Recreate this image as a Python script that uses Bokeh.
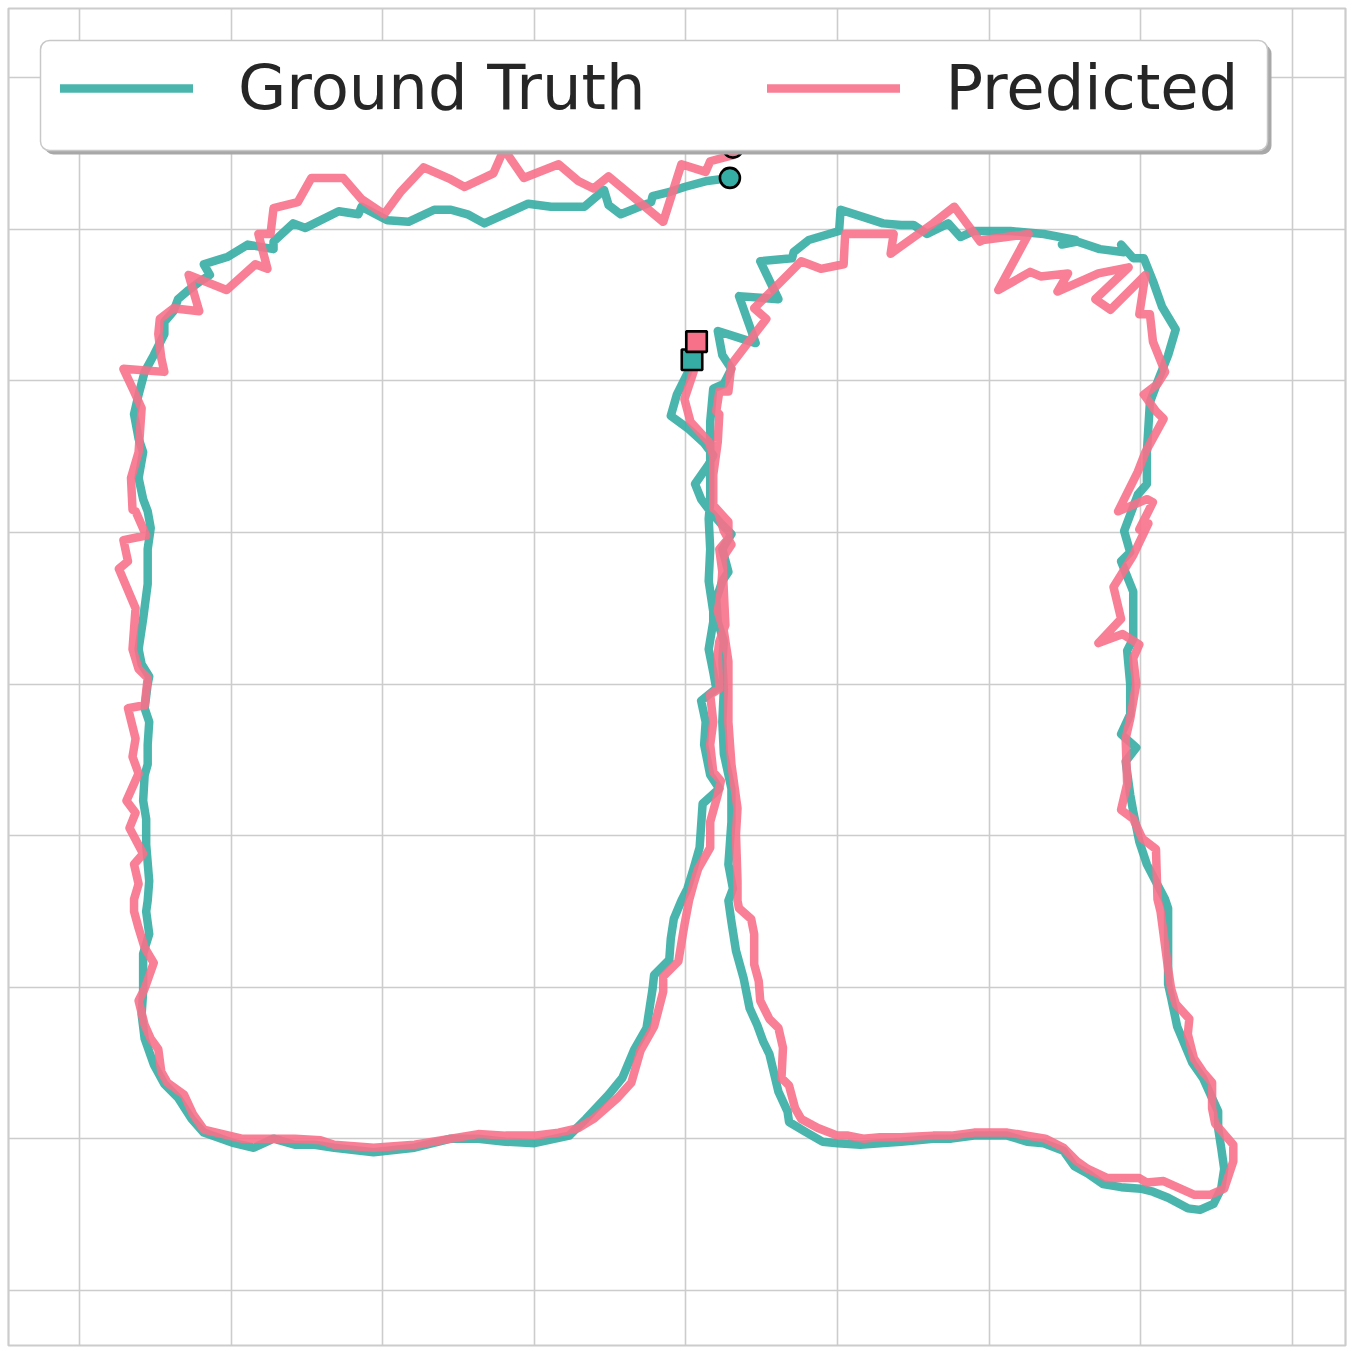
from bokeh.plotting import figure
from bokeh.models import Range1d, Grid, FixedTicker, Legend, LegendItem, BoxAnnotation
from bokeh.embed import file_html
from bokeh.resources import INLINE

# ---------------- data (grid units) ----------------
gt_x = [4.04, 4.01, 3.94, 3.90, 4.01, 4.12, 4.18, 4.15, 4.06, 4.10,
        4.16, 4.23, 4.30, 4.24, 4.28, 4.24, 4.20, 4.21, 4.25, 4.24,
        4.25, 4.24, 4.25, 4.30, 4.30, 4.28, 4.31, 4.28, 4.30, 4.33,
        4.38, 4.42, 4.47, 4.51, 4.55, 4.61, 4.67, 4.68, 4.78, 4.90,
        5.00, 5.15, 5.28, 5.42, 5.63, 5.75, 5.90, 6.12, 6.25, 6.36,
        6.49, 6.56, 6.65, 6.75, 6.87, 7.00, 7.08, 7.18, 7.31, 7.39,
        7.48, 7.53, 7.55, 7.53, 7.51, 7.51, 7.41, 7.34, 7.24, 7.20,
        7.18, 7.18, 7.18, 7.16, 7.04, 6.99, 6.95, 6.93, 6.90, 6.97,
        6.87, 6.93, 6.93, 6.91, 6.95, 6.95, 6.93, 6.87, 6.93, 6.89,
        6.98, 7.04, 7.04, 7.06, 7.12, 7.18, 7.23, 7.14, 7.08, 7.02,
        6.95, 6.87, 6.89, 6.73, 6.58, 6.48, 6.57, 6.36, 6.14, 5.90,
        5.81, 5.73, 5.59, 5.50, 5.42, 5.30, 5.02, 5.01, 4.81, 4.71,
        4.70, 4.49, 4.61, 4.35, 4.46, 4.21, 4.24, 4.30, 4.25, 4.18,
        4.16, 4.16, 4.16, 4.15, 4.16, 4.15, 4.18, 4.18, 4.15, 4.18,
        4.20, 4.10, 4.13, 4.12, 4.16, 4.22, 4.11, 4.09, 4.05, 4.01,
        3.97, 3.92, 3.90, 3.89, 3.79, 3.78, 3.74, 3.66, 3.58, 3.49,
        3.34, 3.23, 3.00, 2.81, 2.63, 2.45, 2.21, 1.94, 1.68, 1.55,
        1.42, 1.28, 1.15, 1.02, 0.82, 0.74, 0.65, 0.56, 0.49, 0.43,
        0.41, 0.42, 0.42, 0.46, 0.44, 0.45, 0.46, 0.44, 0.44, 0.42,
        0.43, 0.45, 0.45, 0.46, 0.43, 0.45, 0.46, 0.41, 0.39, 0.42,
        0.45, 0.45, 0.47, 0.45, 0.42, 0.39, 0.42, 0.39, 0.36, 0.39,
        0.43, 0.49, 0.56, 0.56, 0.62, 0.65, 0.72, 0.80, 0.86, 0.82,
        0.98, 1.11, 1.28, 1.28, 1.41, 1.49, 1.71, 1.84, 1.86, 2.03,
        2.17, 2.34, 2.45, 2.56, 2.67, 2.96, 3.11, 3.33, 3.46, 3.49,
        3.57, 3.77, 3.78, 3.90, 3.99, 4.14, 4.29]

gt_y = [6.14, 6.05, 5.91, 5.77, 5.69, 5.59, 5.51, 5.45, 5.32, 5.22,
        5.14, 5.06, 4.99, 4.89, 4.74, 4.68, 4.56, 4.41, 4.28, 4.15,
        3.97, 3.75, 3.54, 3.31, 3.09, 2.81, 2.65, 2.57, 2.43, 2.24,
        2.06, 1.86, 1.75, 1.64, 1.56, 1.31, 1.18, 1.11, 1.05, 0.98,
        0.97, 0.96, 0.97, 0.98, 1.00, 1.00, 1.02, 1.02, 0.98, 0.97,
        0.92, 0.82, 0.77, 0.70, 0.68, 0.67, 0.65, 0.61, 0.54, 0.53,
        0.57, 0.67, 0.80, 0.94, 1.07, 1.18, 1.40, 1.50, 1.74, 1.93,
        2.02, 2.35, 2.52, 2.58, 2.81, 2.96, 3.16, 3.27, 3.49, 3.58,
        3.67, 3.80, 4.00, 4.22, 4.30, 4.61, 4.66, 4.81, 4.87, 5.01,
        5.25, 5.32, 5.53, 5.86, 6.02, 6.17, 6.34, 6.49, 6.66, 6.81,
        6.81, 6.90, 6.85, 6.87, 6.92, 6.90, 6.93, 6.97, 6.99, 6.99,
        6.95, 7.04, 6.97, 7.03, 7.03, 7.04, 7.13, 6.99, 6.93, 6.85,
        6.81, 6.79, 6.54, 6.56, 6.25, 6.33, 6.17, 6.08, 5.98, 5.95,
        5.73, 5.47, 5.20, 5.09, 4.89, 4.68, 4.48, 4.41, 4.23, 4.08,
        3.97, 3.89, 3.75, 3.60, 3.40, 3.31, 3.21, 2.92, 2.78, 2.65,
        2.57, 2.45, 2.32, 2.18, 2.08, 1.99, 1.73, 1.59, 1.40, 1.29,
        1.13, 1.02, 0.97, 0.98, 1.00, 1.00, 0.94, 0.91, 0.94, 0.96,
        0.96, 1.00, 0.94, 0.97, 1.04, 1.13, 1.27, 1.36, 1.49, 1.66,
        1.82, 1.97, 2.22, 2.35, 2.50, 2.57, 2.70, 2.94, 3.11, 3.23,
        3.40, 3.47, 3.60, 3.75, 3.84, 4.00, 4.05, 4.13, 4.23, 4.43,
        4.66, 4.89, 5.03, 5.14, 5.22, 5.36, 5.53, 5.62, 5.78, 5.91,
        6.06, 6.17, 6.31, 6.39, 6.46, 6.54, 6.60, 6.66, 6.70, 6.77,
        6.82, 6.90, 6.87, 6.92, 7.04, 7.01, 7.12, 7.10, 7.15, 7.06,
        7.05, 7.13, 7.13, 7.10, 7.04, 7.17, 7.15, 7.15, 7.26, 7.16,
        7.10, 7.18, 7.22, 7.25, 7.28, 7.32, 7.34]

pred_x = [4.07, 4.05, 3.99, 4.03, 4.15, 4.18, 4.18, 4.18, 4.28, 4.28,
          4.22, 4.24, 4.23, 4.21, 4.25, 4.28, 4.28, 4.28, 4.30, 4.34,
          4.33, 4.34, 4.34, 4.35, 4.43, 4.45, 4.45, 4.48, 4.49, 4.55,
          4.61, 4.64, 4.63, 4.68, 4.72, 4.76, 4.87, 5.00, 5.07, 5.17,
          5.28, 5.42, 5.63, 5.75, 5.90, 6.01, 6.12, 6.25, 6.37, 6.49,
          6.58, 6.65, 6.78, 6.99, 7.04, 7.15, 7.35, 7.46, 7.55, 7.61,
          7.61, 7.49, 7.47, 7.47, 7.41, 7.35, 7.31, 7.32, 7.23, 7.20,
          7.18, 7.15, 7.13, 7.11, 7.10, 7.01, 6.95, 6.87, 6.91, 6.90,
          6.93, 6.97, 6.95, 6.99, 6.88, 6.72, 6.87, 6.82, 6.95, 7.05,
          6.99, 7.08, 7.04, 6.85, 6.98, 7.03, 7.15, 7.10, 7.02, 7.11,
          7.16, 7.08, 7.06, 6.99, 7.03, 6.80, 6.70, 6.92, 6.72, 6.45,
          6.52, 6.34, 6.27, 6.06, 6.26, 5.96, 5.94, 5.77, 5.63, 5.42,
          5.35, 5.37, 5.05, 5.04, 4.89, 4.76, 4.67, 4.45, 4.53, 4.30,
          4.28, 4.22, 4.20, 4.22, 4.21, 4.18, 4.18, 4.21, 4.25, 4.30,
          4.24, 4.25, 4.26, 4.22, 4.21, 4.22, 4.16, 4.18, 4.16, 4.18,
          4.23, 4.21, 4.16, 4.16, 4.08, 4.05, 4.02, 3.99, 3.95, 3.85,
          3.85, 3.79, 3.70, 3.64, 3.55, 3.39, 3.29, 3.16, 3.00, 2.81,
          2.63, 2.45, 2.21, 1.94, 1.68, 1.59, 1.42, 1.28, 1.07, 0.82,
          0.75, 0.69, 0.58, 0.54, 0.52, 0.47, 0.43, 0.39, 0.43, 0.49,
          0.43, 0.39, 0.36, 0.36, 0.39, 0.36, 0.42, 0.33, 0.37, 0.31,
          0.39, 0.35, 0.37, 0.32, 0.43, 0.45, 0.39, 0.35, 0.37, 0.26,
          0.32, 0.29, 0.44, 0.37, 0.35, 0.34, 0.39, 0.41, 0.36, 0.29,
          0.56, 0.54, 0.52, 0.53, 0.62, 0.79, 0.72, 0.97, 1.16, 1.24,
          1.18, 1.26, 1.28, 1.44, 1.53, 1.74, 1.86, 2.01, 2.12, 2.27,
          2.45, 2.54, 2.73, 2.80, 2.93, 3.16, 3.29, 3.39, 3.49, 3.85,
          3.97, 4.13, 4.16, 4.31, 4.31]

pred_y = [6.26, 6.06, 5.88, 5.73, 5.60, 5.51, 5.36, 5.18, 5.07, 4.96,
          4.89, 4.74, 4.61, 4.48, 4.35, 4.15, 3.97, 3.75, 3.47, 3.18,
          3.01, 2.70, 2.57, 2.52, 2.45, 2.35, 2.15, 2.04, 1.91, 1.79,
          1.73, 1.60, 1.40, 1.35, 1.20, 1.13, 1.07, 1.02, 1.02, 1.00,
          1.01, 1.01, 1.02, 1.02, 1.04, 1.04, 1.04, 1.02, 1.00, 0.94,
          0.85, 0.80, 0.74, 0.74, 0.71, 0.72, 0.63, 0.63, 0.67, 0.85,
          0.96, 1.10, 1.20, 1.37, 1.44, 1.53, 1.69, 1.79, 1.89, 1.99,
          2.12, 2.35, 2.50, 2.58, 2.91, 2.98, 3.11, 3.17, 3.34, 3.64,
          3.77, 4.00, 4.17, 4.26, 4.33, 4.27, 4.43, 4.64, 4.85, 5.06,
          5.02, 5.20, 5.22, 5.14, 5.40, 5.53, 5.75, 5.80, 5.91, 5.98,
          6.06, 6.26, 6.44, 6.44, 6.70, 6.47, 6.54, 6.75, 6.71, 6.59,
          6.71, 6.69, 6.72, 6.60, 6.97, 6.93, 6.92, 7.15, 7.04, 6.89,
          6.84, 6.97, 6.97, 6.77, 6.74, 6.79, 6.70, 6.48, 6.41, 6.11,
          5.93, 5.93, 5.80, 5.78, 5.60, 5.38, 5.16, 5.14, 5.01, 4.92,
          4.83, 4.61, 4.39, 4.28, 4.20, 3.97, 3.93, 3.75, 3.60, 3.42,
          3.36, 3.27, 3.09, 2.92, 2.78, 2.68, 2.57, 2.41, 2.17, 2.07,
          1.97, 1.74, 1.58, 1.37, 1.27, 1.13, 1.07, 1.04, 1.02, 1.02,
          1.03, 1.00, 0.96, 0.94, 0.96, 0.99, 1.00, 1.00, 1.00, 1.06,
          1.16, 1.29, 1.37, 1.44, 1.59, 1.66, 1.75, 1.91, 1.99, 2.16,
          2.26, 2.39, 2.50, 2.58, 2.68, 2.81, 2.88, 3.05, 3.15, 3.23,
          3.41, 3.52, 3.64, 3.84, 3.86, 4.04, 4.10, 4.23, 4.50, 4.76,
          4.81, 4.95, 4.98, 5.14, 5.15, 5.36, 5.53, 5.82, 5.93, 6.08,
          6.06, 6.15, 6.31, 6.41, 6.48, 6.46, 6.70, 6.60, 6.77, 6.74,
          6.97, 6.97, 7.14, 7.18, 7.34, 7.34, 7.20, 7.10, 7.25, 7.41,
          7.33, 7.28, 7.37, 7.53, 7.34, 7.43, 7.32, 7.27, 7.35, 7.05,
          7.43, 7.38, 7.45, 7.49, 7.54]

grid_ticks = [0, 1, 2, 3, 4, 5, 6, 7, 8]
series_labels = ["Ground Truth", "Predicted"]

# ---------------- styles ----------------
GT_COLOR = "#36ada4"
PR_COLOR = "#f77189"
GRID_COLOR = "#cccccc"
TEXT_COLOR = "#262626"
FONT = "DejaVu Sans"

p = figure(width=1353, height=1353,
           x_range=Range1d(-0.468, 8.35), y_range=Range1d(-0.365, 8.458),
           x_axis_type=None, y_axis_type=None,
           toolbar_location=None, output_backend="svg",
           min_border_left=8, min_border_right=8, min_border_top=8, min_border_bottom=8)
p.background_fill_color = "white"
p.border_fill_color = "white"
p.outline_line_color = GRID_COLOR
p.outline_line_width = 2.2

p.add_layout(Grid(dimension=0, ticker=FixedTicker(ticks=grid_ticks),
                  grid_line_color=GRID_COLOR, grid_line_width=1.6))
p.add_layout(Grid(dimension=1, ticker=FixedTicker(ticks=grid_ticks),
                  grid_line_color=GRID_COLOR, grid_line_width=1.6))

gt_line = p.line(gt_x, gt_y, line_color=GT_COLOR, line_width=8.5, line_alpha=0.9,
                 line_join="round", line_cap="round")
pr_line = p.line(pred_x, pred_y, line_color=PR_COLOR, line_width=8.5, line_alpha=0.9,
                 line_join="round", line_cap="round")

# start (square) and end (circle) markers
p.scatter([gt_x[0]], [gt_y[0]], marker="square", size=20.5, fill_color=GT_COLOR,
          line_color="black", line_width=2.6)
p.scatter([pred_x[0]], [pred_y[0]], marker="square", size=20.5, fill_color=PR_COLOR,
          line_color="black", line_width=2.6)
p.scatter([gt_x[-1]], [gt_y[-1]], marker="circle", size=20, fill_color=GT_COLOR,
          line_color="black", line_width=2.6)
p.scatter([pred_x[-1]], [pred_y[-1]], marker="circle", size=20, fill_color=PR_COLOR,
          line_color="black", line_width=2.6)

# legend frame: drop shadow + rounded white box (screen px, frame-relative, y up)
shadow = BoxAnnotation(left=36, right=1263, top=1301, bottom=1191,
                       left_units="screen", right_units="screen",
                       top_units="screen", bottom_units="screen",
                       fill_color="#a8a8a8", fill_alpha=1.0, line_color=None,
                       border_radius=9, level="annotation")
box = BoxAnnotation(left=32, right=1259, top=1305, bottom=1195,
                    left_units="screen", right_units="screen",
                    top_units="screen", bottom_units="screen",
                    fill_color="white", fill_alpha=1.0,
                    line_color="#c8c8c8", line_width=1.5, line_alpha=1.0,
                    border_radius=9, level="annotation")
p.add_layout(shadow)
p.add_layout(box)

items = [LegendItem(label=series_labels[0], renderers=[gt_line]),
         LegendItem(label=series_labels[1], renderers=[pr_line])]
legend = Legend(items=items, location=(52, 1221), orientation="horizontal",
                margin=0, padding=20, spacing=122,
                glyph_width=133, glyph_height=40, label_standoff=45, label_width=302,
                label_text_font=FONT, label_text_font_size="62.4px",
                label_text_color=TEXT_COLOR,
                background_fill_alpha=0.0, border_line_color=None)
p.add_layout(legend)

open("out.html", "w").write(file_html(p, INLINE))
